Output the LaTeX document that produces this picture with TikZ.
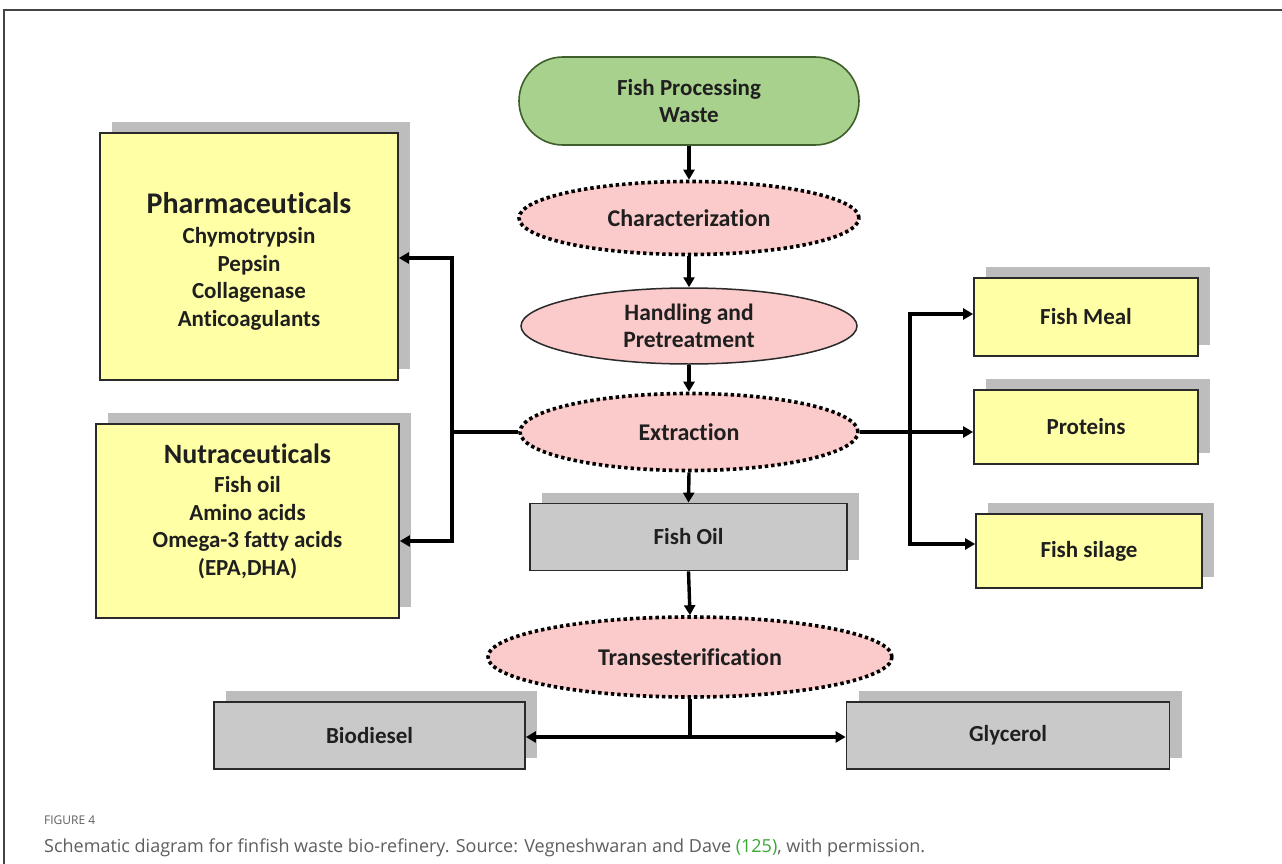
\documentclass[tikz,border=0pt]{standalone}
\usepackage{fontspec}
\setmainfont{Carlito}[Ligatures=NoCommon]
\newfontfamily\capfont{Open Sans}
\usetikzlibrary{arrows.meta,shapes.geometric,shadows}

\definecolor{boxyellow}{HTML}{FFFFA5}
\definecolor{boxgray}{HTML}{C9C9C9}
\definecolor{shadowgray}{HTML}{BDBDBD}
\definecolor{edgegray}{HTML}{2A2A2A}
\definecolor{wastegreen}{HTML}{A9D18E}
\definecolor{wasteedge}{HTML}{3E5F2C}
\definecolor{steppink}{HTML}{FBCACA}
\definecolor{framegray}{HTML}{444444}
\definecolor{capgray}{HTML}{5E5E5E}
\definecolor{citegreen}{HTML}{3AAA35}

\tikzset{
  every node/.style={font=\bfseries\fontsize{23}{27.5}\selectfont, text=black!88},
  ellfont/.style={font=\bfseries\fontsize{24}{27.5}\selectfont},
  shadowed/.style={drop shadow={shadow xshift=12pt, shadow yshift=11pt, fill=shadowgray, opacity=1}},
  ybox/.style={rectangle, draw=edgegray, line width=1.8pt, fill=boxyellow, inner sep=0pt, shadowed},
  gbox/.style={rectangle, draw=edgegray, line width=1.8pt, fill=boxgray, inner sep=0pt, shadowed},
  dotell/.style={ellipse, ellfont, fill=steppink, draw=black, line width=3.6pt, dash pattern=on 3.4pt off 3pt, inner sep=0pt},
  solidell/.style={ellipse, fill=steppink, draw=edgegray, line width=1.5pt, inner sep=0pt},
  wastebox/.style={rectangle, rounded corners=44pt, fill=wastegreen, draw=wasteedge, line width=1.6pt, inner sep=0pt},
  lbl/.style={align=center, inner sep=0pt},
  link/.style={line width=3.4pt, draw=black},
  conn/.style={link, -{Triangle[length=10pt,width=11pt]}},
  captxt/.style={anchor=west, inner sep=0pt, text=capgray},
}

\begin{document}
\begin{tikzpicture}[x=1pt,y=-1pt]
\useasboundingbox (0,0) rectangle (1282,864);
\fill[white] (0,0) rectangle (1282,864);

% page frame: top rule and left rule
\draw[framegray, line width=1.4pt] (4,864) -- (4,10) -- (1282,10);

% central process chain
\node[wastebox, minimum width=340pt, minimum height=88pt, align=center] (waste) at (689,101)
  {Fish Processing\\Waste};
\node[dotell, minimum width=340pt, minimum height=73pt] (charz) at (689,218) {Characterization};
\node[solidell, minimum width=336pt, minimum height=76pt, align=center, font=\bfseries\fontsize{23.5}{27.5}\selectfont] (handling) at (689,326)
  {Handling and\\Pretreatment};
\node[dotell, minimum width=338pt, minimum height=77pt] (extraction) at (689,432) {Extraction};
\node[gbox, minimum width=317pt, minimum height=67pt] (fishoil) at (688.5,537) {Fish Oil};
\node[dotell, minimum width=404pt, minimum height=80pt] (trans) at (690,657) {Transesterification};

% bottom products
\node[gbox, minimum width=311pt, minimum height=67pt] (biodiesel) at (369.5,735.5) {Biodiesel};
\node[gbox, minimum width=323pt, minimum height=67pt] (glycerol) at (1008,735.5) {Glycerol};

% left product groups
\node[ybox, minimum width=298pt, minimum height=247pt] (pharm) at (249,256.5) {};
\node[lbl] (pharmtxt) at (249,261)
  {{\fontsize{30}{33}\selectfont Pharmaceuticals}\\[3pt]Chymotrypsin\\Pepsin\\Collagenase\\Anticoagulants};
\node[ybox, minimum width=303pt, minimum height=194pt] (nutra) at (247.5,521) {};
\node[lbl] (nutratxt) at (247.5,511)
  {{\fontsize{28}{32}\selectfont Nutraceuticals}\\[2pt]Fish oil\\Amino acids\\Omega-3 fatty acids\\(EPA,DHA)};

% right product boxes
\node[ybox, minimum width=224pt, minimum height=78pt] (meal) at (1086,317) {Fish Meal};
\node[ybox, minimum width=224pt, minimum height=74pt] (proteins) at (1086,427) {Proteins};
\node[ybox, minimum width=226pt, minimum height=74pt] (silage) at (1089,551) {Fish silage};

% chain arrows
\draw[conn] (waste.south) -- (charz.north);
\draw[conn] (charz.south) -- (handling.north);
\draw[conn] (handling.south) -- (extraction.north);
\draw[conn] (extraction.south) -- (fishoil.north);
\draw[conn] (fishoil.south) -- (trans.north);

% left branch
\coordinate (ljoin) at (452,432);
\coordinate (ltop) at (452,258);
\coordinate (lbot) at (452,541);
\draw[link] (extraction.west) -- (ljoin);
\draw[conn] (ljoin) -- (ltop) -- (pharm.east |- ltop);
\draw[conn] (ljoin) -- (lbot) -- (nutra.east |- lbot);

% right branch
\coordinate (rjoin) at (910,432);
\coordinate (rtop) at (910,314);
\coordinate (rbot) at (910,544);
\draw[conn] (extraction.east) -- (rjoin) -- (proteins.west |- rjoin);
\draw[conn] (rjoin) -- (rtop) -- (meal.west |- rtop);
\draw[conn] (rjoin) -- (rbot) -- (silage.west |- rbot);

% transesterification split
\coordinate (split) at (690,737);
\draw[link] (trans.south) -- (split);
\draw[conn] (split) -- (biodiesel.east |- split);
\draw[conn] (split) -- (glycerol.west |- split);

% caption
\node[captxt, font=\capfont\fontsize{12}{14}\selectfont] (figno) at (44,820) {FIGURE 4};
\node[captxt, font=\capfont\fontsize{18}{21}\selectfont] (caption) at (44,848)
  {Schematic diagram for finfish waste bio-refinery. Source: Vegneshwaran and Dave \textcolor{citegreen}{(125)}, with permission.};
\end{tikzpicture}
\end{document}
